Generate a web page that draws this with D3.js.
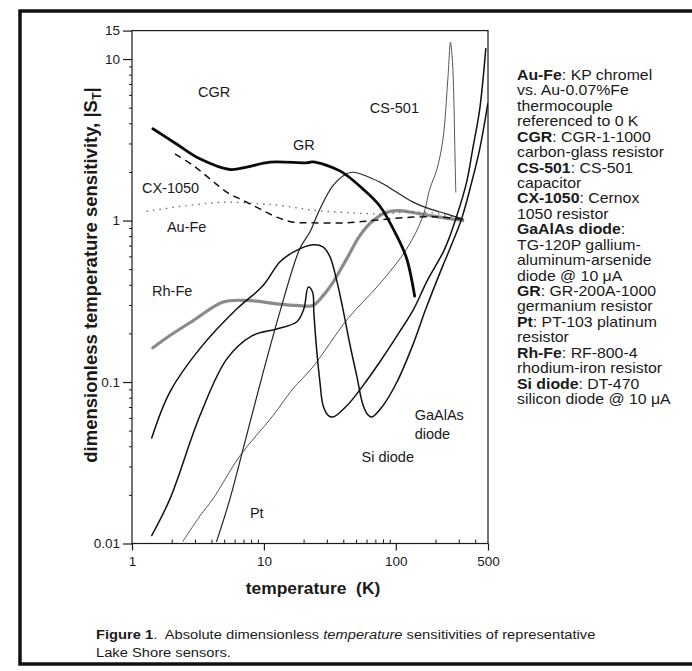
<!DOCTYPE html>
<html><head><meta charset="utf-8">
<script src="https://cdn.jsdelivr.net/npm/d3@7"></script>
<style>
html,body{margin:0;padding:0;background:#fff;}
svg{display:block;font-family:"Liberation Sans",Arial,Helvetica,sans-serif;}
</style></head>
<body>
<svg id="chart" width="692" height="671"></svg>
<script>
// ---- data: [temperature K, |S_T|] ----
const cgr = [[1.44,3.70],[2.16,2.99],[3.27,2.41],[5.53,2.07],[7.39,2.14],[11.1,2.30],[21.5,2.28],[23.5,2.31],[37.7,2.03],[56.2,1.57],[75.6,1.23],[102,0.80],[121,0.58],[139,0.34]];
const cx1050 = [[2.12,2.59],[2.91,2.19],[3.90,1.81],[5.22,1.50],[6.97,1.33],[9.33,1.18],[12.5,1.05],[16.7,0.977],[23.5,0.968],[42.1,0.968],[75.6,1.01],[134,1.05],[215,1.05],[315,1.02]];
const aufe = [[1.29,1.14],[2.91,1.25],[5.22,1.30],[9.33,1.27],[13.2,1.24],[23.5,1.16],[42.5,1.12],[75.6,1.10],[134,1.13],[215,1.10],[315,1.02]];
const rhfe = [[1.44,0.163],[1.94,0.194],[2.91,0.240],[4.92,0.313],[7.39,0.320],[12.5,0.305],[17.7,0.298],[23.5,0.298],[28.1,0.343],[33.5,0.416],[42.4,0.579],[53.4,0.807],[67.3,1.0],[85.1,1.127],[107,1.153],[152,1.10],[215,1.05],[322,1.0]];
const pt = [[4.38,0.0103],[5.53,0.0189],[7.39,0.0466],[9.88,0.115],[13.2,0.271],[18.7,0.668],[22.3,0.848],[26.6,1.18],[33.5,1.65],[42.4,1.95],[47.4,1.99],[75.6,1.73],[101,1.50],[135,1.30],[181,1.18],[242,1.10],[324,1.02]];
const cs501 = [[2.43,0.0103],[3.27,0.0148],[4.11,0.0189],[6.58,0.0349],[11.7,0.0618],[16.6,0.0908],[23.5,0.124],[43.3,0.247],[75.6,0.406],[121,0.668],[161,1.07],[181,1.57],[205,2.08],[228,3.21],[248,7.5],[259.8,12.7],[268.9,9.6],[275,5.94],[280,2.91],[285,1.50]];
const siDiode = [[1.41,0.0112],[1.94,0.0189],[3.27,0.0618],[5.24,0.139],[8.11,0.193],[12.5,0.213],[17.8,0.236],[20.1,0.284],[21.7,0.387],[23.4,0.360],[23.9,0.271],[25.1,0.160],[26.6,0.0999],[28.1,0.0715],[30.7,0.0621],[33.5,0.0607],[42.5,0.0712],[56.2,0.0947],[75.6,0.133],[107,0.205],[137,0.284],[172,0.42],[235,0.668],[290,1.07],[345,1.74],[383,2.78],[433,4.92],[481,11.6]];
const gaalas = [[1.41,0.045],[1.94,0.087],[3.27,0.161],[6.24,0.284],[9.82,0.394],[13.2,0.553],[16.7,0.637],[23.5,0.707],[28.0,0.687],[31.6,0.60],[35.7,0.423],[39.7,0.284],[44.8,0.172],[50.7,0.108],[56.2,0.0729],[61.4,0.0627],[65.8,0.0607],[79.7,0.0712],[102,0.100],[134,0.168],[169,0.284],[227,0.524],[257,0.668],[316,1.03],[377,1.74],[433,2.78],[498,5.28]];

const xTickValues = [1,10,100,500];
const xTickLabels = ["1","10","100","500"];
const yTickValues = [0.01,0.1,1,10,15];
const yTickLabels = ["0.01","0.1","1","10","15"];

// curve labels: [text, T, S]
const curveLabels = [["CGR",3.16,5.82],["GR",16.6,2.73],["CS-501",63.5,4.63],["CX-1050",1.19,1.48],["Au-Fe",1.84,0.849],["Rh-Fe",1.42,0.341],["GaAlAs",139,0.0582],["diode",139,0.0444],["Si diode",55,0.0320],["Pt",7.83,0.0144]];

const legendLines = [
 [["Au-Fe","b"],[": KP chromel",""]],
 [["vs. Au-0.07%Fe",""]],
 [["thermocouple",""]],
 [["referenced to 0 K",""]],
 [["CGR","b"],[": CGR-1-1000",""]],
 [["carbon-glass resistor",""]],
 [["CS-501","b"],[": CS-501",""]],
 [["capacitor",""]],
 [["CX-1050","b"],[": Cernox",""]],
 [["1050 resistor",""]],
 [["GaAlAs diode","b"],[":",""]],
 [["TG-120P gallium-",""]],
 [["aluminum-arsenide",""]],
 [["diode @ 10 \u03bcA",""]],
 [["GR","b"],[": GR-200A-1000",""]],
 [["germanium resistor",""]],
 [["Pt","b"],[": PT-103 platinum",""]],
 [["resistor",""]],
 [["Rh-Fe","b"],[": RF-800-4",""]],
 [["rhodium-iron resistor",""]],
 [["Si diode","b"],[": DT-470",""]],
 [["silicon diode @ 10 \u03bcA",""]]
];

const captionLines = [
 [["Figure 1","b"],[".  Absolute dimensionless ",""],["temperature","i"],[" sensitivities of representative",""]],
 [["Lake Shore sensors.",""]]
];

// ---- drawing ----
const svg = d3.select("#chart");
const ink = "#1a1a1a";
const L = 132, R = 488, T = 30.6, B = 543.5;
const x = d3.scaleLog().domain([1,500]).range([L,R]);
const y = d3.scaleLog().domain([0.01,15]).range([B,T]);

// outer frame
svg.append("rect").attr("x",20).attr("y",11).attr("width",700).attr("height",653)
  .attr("fill","none").attr("stroke","#111").attr("stroke-width",3.5);

// plot frame
svg.append("rect").attr("x",L).attr("y",T).attr("width",R-L).attr("height",B-T)
  .attr("fill","none").attr("stroke",ink).attr("stroke-width",1.2);

// minor ticks
const xMinor = [];
[1,10,100].forEach(d=>{for(let m=2;m<=9;m++){const v=d*m; if(v<500) xMinor.push(v);}});
const yMinor = [];
[0.01,0.1,1].forEach(d=>{for(let m=2;m<=9;m++) yMinor.push(d*m);});
svg.append("g").attr("transform",`translate(0,${B})`)
  .call(d3.axisTop(x).tickValues(xMinor).tickSize(4).tickFormat(""))
  .call(g=>{g.select(".domain").remove(); g.selectAll("line").attr("stroke",ink).attr("stroke-width",1);});
svg.append("g").attr("transform",`translate(${L},0)`)
  .call(d3.axisLeft(y).tickValues(yMinor).tickSize(3).tickFormat(""))
  .call(g=>{g.select(".domain").remove(); g.selectAll("line").attr("stroke",ink).attr("stroke-width",1);});

// major axes
svg.append("g").attr("transform",`translate(0,${B})`)
  .call(d3.axisBottom(x).tickValues(xTickValues).tickSize(7).tickPadding(6).tickFormat((d,i)=>xTickLabels[i]))
  .call(g=>{g.select(".domain").remove();
    g.selectAll("line").attr("stroke",ink).attr("stroke-width",1.2);
    g.selectAll("text").attr("fill",ink).attr("font-size",13.5).attr("font-family","Liberation Sans, Arial, sans-serif");});
svg.append("g").attr("transform",`translate(${L},0)`)
  .call(d3.axisLeft(y).tickValues(yTickValues).tickSize(9).tickPadding(3).tickFormat((d,i)=>yTickLabels[i]))
  .call(g=>{g.select(".domain").remove();
    g.selectAll("line").attr("stroke",ink).attr("stroke-width",1.2);
    g.selectAll("text").attr("fill",ink).attr("font-size",13.5).attr("font-family","Liberation Sans, Arial, sans-serif");});

// curves
svg.append("clipPath").attr("id","clip").append("rect").attr("x",L).attr("y",T).attr("width",R-L).attr("height",B-T);
const line = d3.line().x(d=>x(d[0])).y(d=>y(d[1])).curve(d3.curveCatmullRom.alpha(0.5));
const gC = svg.append("g").attr("clip-path","url(#clip)").attr("fill","none").attr("stroke-linejoin","round").attr("stroke-linecap","round");
const series = [
  {d:rhfe, c:"#8a8a8a", w:3.2},
  {d:cs501, c:"#555", w:1.0},
  {d:aufe, c:"#666", w:1.3, dash:"1.5,5"},
  {d:cx1050, c:"#111", w:1.5, dash:"7,5"},
  {d:pt, c:"#222", w:1.2},
  {d:gaalas, c:"#111", w:1.5},
  {d:siDiode, c:"#111", w:1.5},
  {d:cgr, c:"#0a0a0a", w:2.8}
];
series.forEach(s=>{
  const p = gC.append("path").attr("d",line(s.d)).attr("stroke",s.c).attr("stroke-width",s.w);
  if(s.dash) p.attr("stroke-dasharray",s.dash).attr("stroke-linecap","butt");
});

// curve labels
svg.append("g").selectAll("text").data(curveLabels).join("text")
  .attr("x",d=>x(d[1])).attr("y",d=>y(d[2]))
  .attr("font-size",14.5).attr("fill",ink).text(d=>d[0]);

// axis titles
svg.append("text").attr("transform",`translate(313,594) scale(1.09,1)`)
  .attr("text-anchor","middle").attr("font-size",16).attr("font-weight","bold").attr("fill",ink)
  .attr("xml:space","preserve").text("temperature  (K)");
const yl = svg.append("text").attr("transform",`translate(97,275) rotate(-90)`)
  .attr("text-anchor","middle").attr("font-size",18.5).attr("font-weight","bold").attr("fill",ink);
yl.append("tspan").text("dimensionless temperature sensitivity, |S");
yl.append("tspan").attr("font-size",12.5).attr("dy",4).text("T");
yl.append("tspan").attr("dy",-4).text("|");

// legend text
const lg = svg.append("g").attr("transform","translate(517,0) scale(1.1,1)");
legendLines.forEach((ln,i)=>{
  const t = lg.append("text").attr("x",0).attr("y",80+i*15.43).attr("font-size",14.4).attr("fill",ink).attr("xml:space","preserve");
  ln.forEach(seg=>{
    const sp = t.append("tspan").text(seg[0]);
    if(seg[1]==="b") sp.attr("font-weight","bold");
    if(seg[1]==="i") sp.attr("font-style","italic");
  });
});

// caption
const cg = svg.append("g").attr("transform","translate(96,0) scale(1.09,1)");
captionLines.forEach((ln,i)=>{
  const t = cg.append("text").attr("x",0).attr("y",639+i*18.5).attr("font-size",13.5).attr("fill",ink).attr("xml:space","preserve");
  ln.forEach(seg=>{
    const sp = t.append("tspan").text(seg[0]);
    if(seg[1]==="b") sp.attr("font-weight","bold");
    if(seg[1]==="i") sp.attr("font-style","italic");
  });
});
</script>
</body></html>
